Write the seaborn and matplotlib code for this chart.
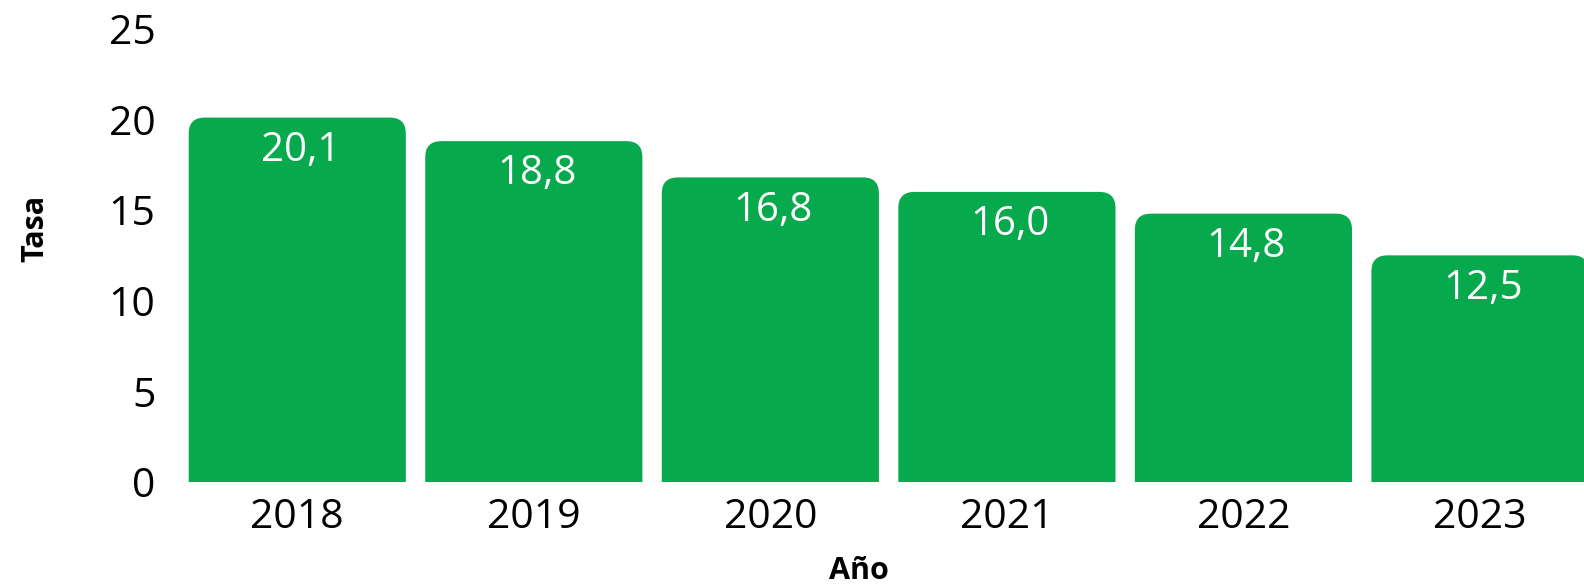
import matplotlib
matplotlib.use("Agg")
import matplotlib.pyplot as plt
import seaborn as sns
import pandas as pd
from matplotlib.patches import FancyBboxPatch

years = ["2018", "2019", "2020", "2021", "2022", "2023"]
tasa = [20.1, 18.8, 16.8, 16.0, 14.8, 12.5]
labels = ["20,1", "18,8", "16,8", "16,0", "14,8", "12,5"]
y_ticks = [0, 5, 10, 15, 20, 25]

sns.set_theme(style="white")
plt.rcParams["font.family"] = ["Open Sans", "DejaVu Sans"]

GREEN = "#07A94D"
df = pd.DataFrame({"Año": years, "Tasa": tasa})

fig = plt.figure(figsize=(15.84, 5.87), dpi=100)
ax = fig.add_axes([0.113, 0.179, 0.896, 0.772])
sns.barplot(data=df, x="Año", y="Tasa", color=GREEN, saturation=1, width=0.918, ax=ax)
ax.set_ylim(0, 25)
ax.set_xlim(-0.5, 5.5)

# rounded top corners
fig.canvas.draw()
px_per_x = ax.bbox.width / 6.0
px_per_y = ax.bbox.height / 25.0
r_px = 16
rx = r_px / px_per_x
ry = r_px / px_per_y
for p in list(ax.patches):
    x, w, h = p.get_x(), p.get_width(), p.get_height()
    p.set_visible(False)
    fb = FancyBboxPatch((x, -ry), w, h + ry,
                        boxstyle=f"round,pad=0,rounding_size={rx}",
                        mutation_aspect=ry / rx,
                        facecolor=GREEN, edgecolor="none", clip_on=True)
    ax.add_patch(fb)

for i, (v, lab) in enumerate(zip(tasa, labels)):
    ax.annotate(lab, (i, v), xytext=(3, -33), textcoords="offset pixels",
                ha="center", va="center", color="white", fontsize=29)

ax.set_yticks(y_ticks)
ax.set_yticklabels([str(t) for t in y_ticks])
ax.tick_params(axis="y", length=0, pad=17, labelsize=29.5, colors="black")
ax.tick_params(axis="x", length=0, pad=11, labelsize=29.5, colors="black")
ax.set_xlabel("Año", fontsize=22, fontweight="bold", color="black")
ax.set_ylabel("Tasa", fontsize=22, fontweight="bold", color="black")
ax.xaxis.label.set_va("center")
ax.yaxis.label.set_va("center")
ax.xaxis.set_label_coords(0.479, -0.196)
ax.yaxis.set_label_coords(-0.1015, 0.56)
for s in ax.spines.values():
    s.set_visible(False)
ax.grid(False)

fig.savefig("out.png", dpi=100)
